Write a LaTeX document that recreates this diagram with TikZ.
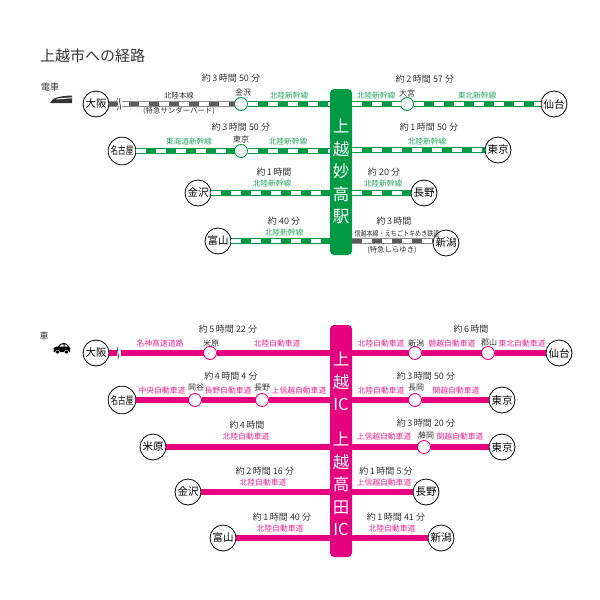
\documentclass[tikz,border=0pt]{standalone}
\usepackage{fontspec}
\newfontfamily\jpfont{Noto Sans CJK JP}
\usetikzlibrary{positioning, shapes.geometric}
\definecolor{railgreen}{HTML}{009944}
\definecolor{roadpink}{HTML}{E4007F}
\definecolor{railgray}{HTML}{8C8C8C}
\definecolor{inkgray}{HTML}{333333}
\tikzset{
    every node/.style = {font=\jpfont, inner sep=0pt, outer sep=0pt, text=inkgray},
    city/.style = {draw=black, circle, fill=white, minimum size=26pt, line width=0.8pt, text=black, font=\jpfont\fontsize{10.5}{10.5}\selectfont},
    stop/.style = {circle, fill=white, minimum size=13pt, line width=0.9pt},
    timelabel/.style = {font=\jpfont\fontsize{9}{9}\selectfont},
    stoplabel/.style = {font=\jpfont\fontsize{8}{8}\selectfont},
    greenlabel/.style = {text=railgreen!85, font=\jpfont\fontsize{7.7}{8}\selectfont},
    pinklabel/.style = {text=roadpink!85, font=\jpfont\fontsize{7.8}{8}\selectfont},
    graylabel/.style = {text=inkgray, font=\jpfont\fontsize{7.4}{8}\selectfont},
    bar/.style = {rectangle, rounded corners=4pt, minimum width=22pt},
    bartext/.style = {anchor=north, text=white, align=center, font=\jpfont\fontsize{16.5}{22.5}\selectfont},
    greenrail/.style = {draw=railgreen, line width=6pt, postaction={draw=white, line width=3.4pt, dash pattern=on 10pt off 10pt}},
    grayrail/.style = {draw=railgray, line width=6pt, postaction={draw=white, line width=4pt}, postaction={draw=inkgray!80, line width=3.4pt, dash pattern=on 10pt off 10pt}},
    pinkroad/.style = {draw=roadpink, line width=6pt},
    waveline/.style = {draw=inkgray, line width=0.6pt}
}
\begin{document}
\begin{tikzpicture}[x=1pt, y=-1pt]
    \useasboundingbox (0,0) rectangle (600,600);

    \node [anchor=west, font=\jpfont\fontsize{15}{15}\selectfont] (title) at (40,56) {上越市への経路};
    \node [font=\jpfont\fontsize{9}{9}\selectfont] (denshaLabel) at (50,87) {電車};
    \node [font=\jpfont\fontsize{9}{9}\selectfont] (kurumaLabel) at (44,336) {車};

    % train icon
    \fill [inkgray] (50,103) .. controls (52,98) and (58,96) .. (72,95.5) -- (72,103) -- cycle;
    \fill [white] (57,98.5) -- (72,97.3) -- (72,98.3) -- (56,99.5) -- cycle;
    % car icon
    \fill [black] (53.5,352) -- (53.5,348.5) .. controls (54,347) and (56,346.5) .. (58,346.5) .. controls (60,343.5) and (62,343) .. (64,343) .. controls (66,343) and (67.5,344) .. (69,346.5) .. controls (71,347) and (70,349) .. (70,352) -- cycle;
    \fill [white] (59.5,346.5) .. controls (61,344.5) and (62,344.3) .. (63.5,344.3) -- (63.5,346.5) -- cycle;
    \fill [white] (64.7,344.3) .. controls (66,344.3) and (66.8,345) .. (67.6,346.5) -- (64.7,346.5) -- cycle;
    \fill [black, draw=white, line width=0.4pt] (57.5,352) circle (2pt);
    \fill [black, draw=white, line width=0.4pt] (66.5,352) circle (2pt);

    % bars
    \node [bar, fill=railgreen, minimum height=166pt] (jomyoBar) at (341,172) {};
    \node [bartext] (jomyoText) at (341,119) {上\\越\\妙\\高\\駅};
    \node [bar, fill=roadpink, minimum height=232pt] (jokoBar) at (341,441) {};
    \node [bartext] (joetsuIcText) at (341,352) {上\\越\\IC};
    \node [bartext] (takadaIcText) at (341,432) {上\\越\\高\\田\\IC};

    % train, left side
    \node [city] (osakaA) at (96,104) {大阪};
    \node [stop, draw=railgreen] (kanazawaStop) at (241,104) {};
    \node [city, text width=26pt, align=center] (nagoyaA) at (122,151) {\scalebox{.72}[1]{名古屋}};
    \node [stop, draw=railgreen] (tokyoStop) at (241,151) {};
    \node [city] (kanazawaA) at (198,193) {金沢};
    \node [city] (toyamaA) at (218,241) {富山};
    % train, right side
    \node [stop, draw=railgreen] (omiyaStop) at (407,104) {};
    \node [city] (sendaiA) at (554,104) {仙台};
    \node [city] (tokyoA) at (498,150) {東京};
    \node [city] (naganoA) at (424,193) {長野};
    \node [city] (niigataA) at (446,243) {新潟};

    \draw [grayrail] (osakaA) -- (kanazawaStop);
    \draw [greenrail] (kanazawaStop) -- (kanazawaStop -| jomyoBar.west);
    \draw [greenrail] (nagoyaA) -- (tokyoStop);
    \draw [greenrail] (tokyoStop) -- (tokyoStop -| jomyoBar.west);
    \draw [greenrail] (kanazawaA) -- (kanazawaA -| jomyoBar.west);
    \draw [greenrail] (toyamaA) -- (toyamaA -| jomyoBar.west);
    \draw [greenrail] (omiyaStop -| jomyoBar.east) -- (omiyaStop);
    \draw [greenrail] (omiyaStop) -- (sendaiA);
    \draw [greenrail] (tokyoA -| jomyoBar.east) -- (tokyoA);
    \draw [greenrail] (naganoA -| jomyoBar.east) -- (naganoA);
    \draw [grayrail] (toyamaA -| jomyoBar.east) -- (niigataA.west |- toyamaA);

    \fill [white] (117,98) rectangle (122,110);
    \draw [waveline] (117.5,98) .. controls (115,101) and (120,107) .. (117.5,110);
    \draw [waveline] (120,98) .. controls (117.5,101) and (122.5,107) .. (120,110);

    \node [timelabel] (timeA1) at (231,78) {約\,3\,時間 50 分};
    \node [graylabel] (lineA1) at (179,96) {北陸本線};
    \node [graylabel] (trainA1) at (179,111) {(特急サンダーバード)};
    \node [stoplabel] (kanazawaName) at (243,92) {金沢};
    \node [greenlabel] (lineA2) at (289,96) {北陸新幹線};
    \node [timelabel] (timeA2) at (425,79) {約\,2\,時間 57 分};
    \node [greenlabel] (lineA3) at (376,96) {北陸新幹線};
    \node [stoplabel] (omiyaName) at (407,93) {大宮};
    \node [greenlabel] (lineA4) at (477,96) {東北新幹線};

    \node [timelabel] (timeA3) at (241,127) {約\,3\,時間 50 分};
    \node [greenlabel] (lineA5) at (189,142) {東海道新幹線};
    \node [stoplabel] (tokyoName) at (241,139) {東京};
    \node [greenlabel] (lineA6) at (288,142) {北陸新幹線};
    \node [timelabel] (timeA4) at (429,127) {約\,1\,時間 50 分};
    \node [greenlabel] (lineA7) at (427,142) {北陸新幹線};

    \node [timelabel] (timeA5) at (274,172) {約\,1\,時間};
    \node [greenlabel] (lineA8) at (272,184) {北陸新幹線};
    \node [timelabel] (timeA6) at (384,172) {約 20 分};
    \node [greenlabel] (lineA9) at (383,184) {北陸新幹線};

    \node [timelabel] (timeA7) at (284,221) {約 40 分};
    \node [greenlabel] (lineA10) at (284,233) {北陸新幹線};
    \node [timelabel] (timeA8) at (394,221) {約\,3\,時間};
    \node [graylabel] (lineA11) at (397,234) {\scalebox{.82}[1]{信越本線・えちごトキめき鉄道}};
    \node [graylabel] (trainA2) at (392,250) {(特急しらゆき)};

    % car, left side
    \node [city] (osakaB) at (96,353) {大阪};
    \node [stop, draw=roadpink] (maibaraStop) at (210,353) {};
    \node [city, text width=26pt, align=center] (nagoyaB) at (122,400) {\scalebox{.72}[1]{名古屋}};
    \node [stop, draw=roadpink] (okayaStop) at (195,400) {};
    \node [stop, draw=roadpink] (naganoStop) at (262,400) {};
    \node [city] (maibaraB) at (153,447) {米原};
    \node [city] (kanazawaB) at (188,492) {金沢};
    \node [city] (toyamaB) at (223,538) {富山};
    % car, right side
    \node [stop, draw=roadpink] (niigataStop) at (415,353) {};
    \node [stop, draw=roadpink] (koriyamaStop) at (488,353) {};
    \node [city] (sendaiB) at (559,353) {仙台};
    \node [stop, draw=roadpink] (nagaokaStop) at (415,400) {};
    \node [city] (tokyoB) at (502,400) {東京};
    \node [stop, draw=roadpink] (fujiokaStop) at (424,447) {};
    \node [city] (tokyoC) at (502,447) {東京};
    \node [city] (naganoB) at (426,492) {長野};
    \node [city] (niigataB) at (441,538) {新潟};

    \draw [pinkroad] (osakaB) -- (maibaraStop);
    \draw [pinkroad] (maibaraStop) -- (maibaraStop -| jokoBar.west);
    \draw [pinkroad] (nagoyaB) -- (okayaStop);
    \draw [pinkroad] (okayaStop) -- (naganoStop);
    \draw [pinkroad] (naganoStop) -- (naganoStop -| jokoBar.west);
    \draw [pinkroad] (maibaraB) -- (maibaraB -| jokoBar.west);
    \draw [pinkroad] (kanazawaB) -- (kanazawaB -| jokoBar.west);
    \draw [pinkroad] (toyamaB) -- (toyamaB -| jokoBar.west);
    \draw [pinkroad] (niigataStop -| jokoBar.east) -- (niigataStop);
    \draw [pinkroad] (niigataStop) -- (koriyamaStop);
    \draw [pinkroad] (koriyamaStop) -- (sendaiB);
    \draw [pinkroad] (nagaokaStop -| jokoBar.east) -- (nagaokaStop);
    \draw [pinkroad] (nagaokaStop) -- (tokyoB);
    \draw [pinkroad] (fujiokaStop -| jokoBar.east) -- (fujiokaStop);
    \draw [pinkroad] (fujiokaStop) -- (tokyoC);
    \draw [pinkroad] (naganoB -| jokoBar.east) -- (naganoB);
    \draw [pinkroad] (niigataB -| jokoBar.east) -- (niigataB);

    \fill [white] (117,347) rectangle (120.5,359);
    \draw [waveline] (118,347) .. controls (115.5,350) and (120.5,356) .. (118,359);

    \node [timelabel] (timeB1) at (228,329) {約\,5\,時間 22 分};
    \node [pinklabel] (roadB1) at (160,344) {名神高速道路};
    \node [stoplabel] (maibaraName) at (211,343) {米原};
    \node [pinklabel] (roadB2) at (277,344) {北陸自動車道};
    \node [timelabel] (timeB2) at (471,329) {約\,6\,時間};
    \node [pinklabel] (roadB3) at (381,344) {北陸自動車道};
    \node [stoplabel] (niigataName) at (416,343) {新潟};
    \node [pinklabel] (roadB4) at (452,344) {磐越自動車道};
    \node [stoplabel] (koriyamaName) at (489,343) {郡山};
    \node [pinklabel] (roadB5) at (522,344) {東北自動車道};

    \node [timelabel] (timeB3) at (231,376) {約\,4\,時間 4 分};
    \node [pinklabel] (roadB6) at (162,391) {中央自動車道};
    \node [stoplabel] (okayaName) at (196,388) {岡谷};
    \node [pinklabel] (roadB7) at (228,391) {長野自動車道};
    \node [stoplabel] (naganoName) at (262,388) {長野};
    \node [pinklabel] (roadB8) at (299,391) {上信越自動車道};
    \node [timelabel] (timeB4) at (426,376) {約\,3\,時間 50 分};
    \node [pinklabel] (roadB9) at (381,391) {北陸自動車道};
    \node [stoplabel] (nagaokaName) at (416,388) {長岡};
    \node [pinklabel] (roadB10) at (456,391) {関越自動車道};

    \node [timelabel] (timeB5) at (247,425) {約\,4\,時間};
    \node [pinklabel] (roadB11) at (246,437) {北陸自動車道};
    \node [timelabel] (timeB6) at (426,423) {約\,3\,時間 20 分};
    \node [pinklabel] (roadB12) at (384,437) {上信越自動車道};
    \node [stoplabel] (fujiokaName) at (426,435) {藤岡};
    \node [pinklabel] (roadB13) at (460,437) {関越自動車道};

    \node [timelabel] (timeB7) at (265,471) {約\,2\,時間 16 分};
    \node [pinklabel] (roadB14) at (263,483) {北陸自動車道};
    \node [timelabel] (timeB8) at (386,471) {約\,1\,時間 5 分};
    \node [pinklabel] (roadB15) at (384,483) {上信越自動車道};

    \node [timelabel] (timeB9) at (282,517) {約\,1\,時間 40 分};
    \node [pinklabel] (roadB16) at (280,529) {北陸自動車道};
    \node [timelabel] (timeB10) at (396,517) {約\,1\,時間 41 分};
    \node [pinklabel] (roadB17) at (392,529) {北陸自動車道};
\end{tikzpicture}
\end{document}
